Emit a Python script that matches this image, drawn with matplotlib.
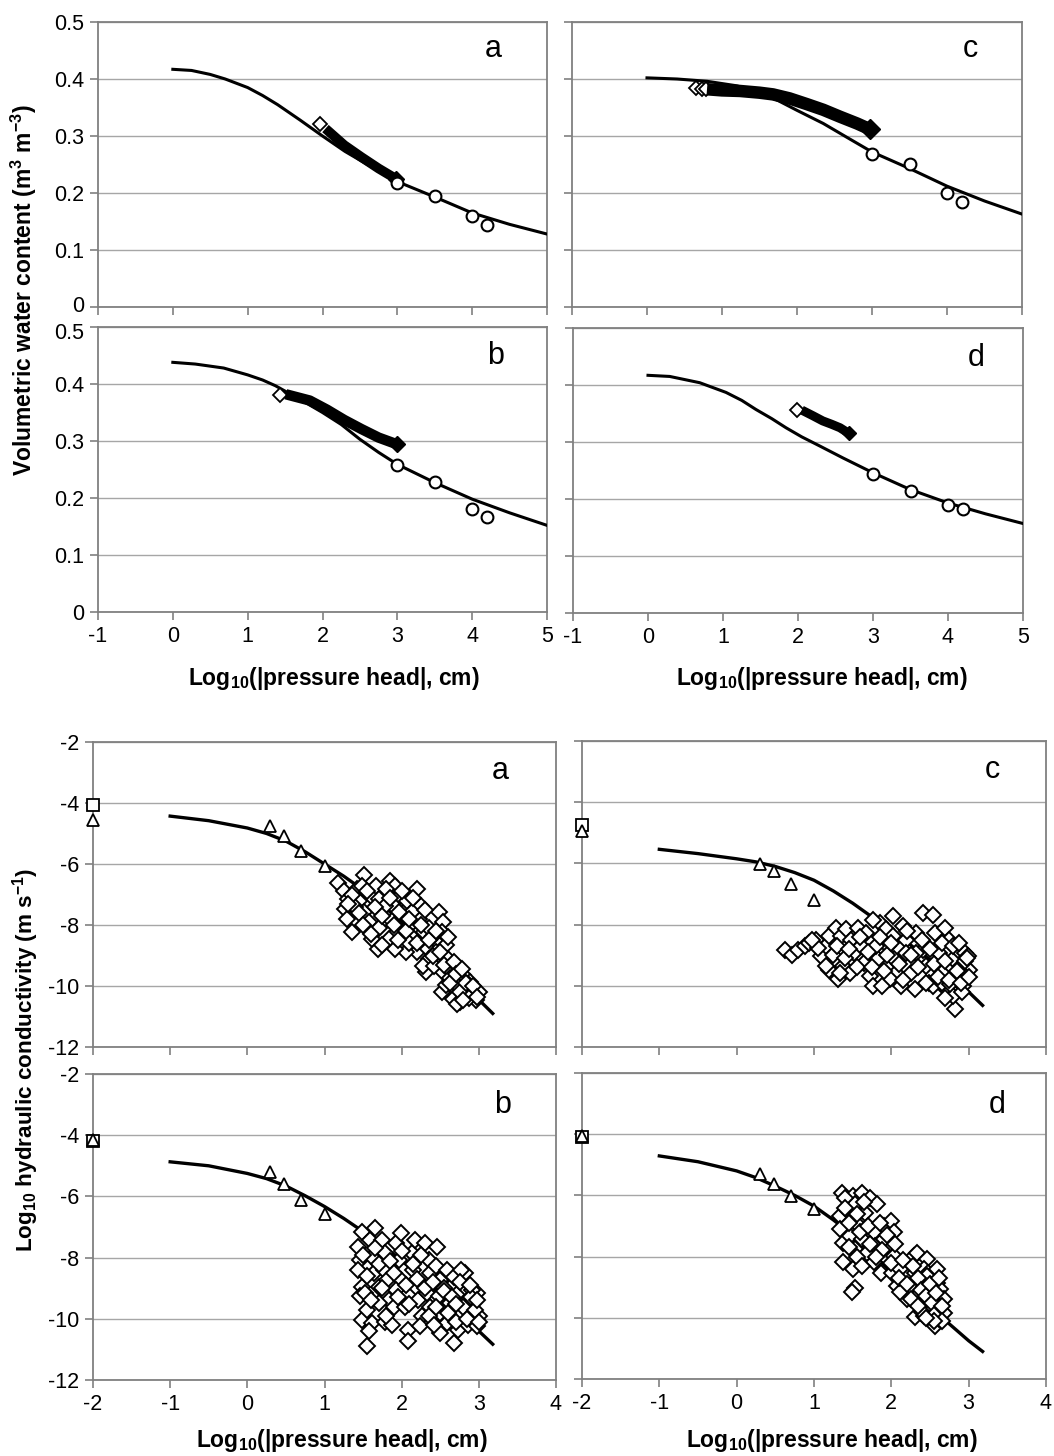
import matplotlib
matplotlib.use("Agg")
import matplotlib.pyplot as plt
import matplotlib.transforms as mtransforms

plt.rcParams["font.family"] = ["Liberation Sans", "DejaVu Sans"]
plt.rcParams["axes.unicode_minus"] = False
plt.rcParams["mathtext.fontset"] = "custom"
plt.rcParams["mathtext.rm"] = "Liberation Sans"
plt.rcParams["mathtext.bf"] = "Liberation Sans:bold"
plt.rcParams["mathtext.it"] = "Liberation Sans:italic"

W, H = 1054, 1456

# ---------------- water retention (top block) ----------------
# fitted curves
ret_curve_x = {
    "a": [0, 0.25, 0.5, 0.7, 1.0, 1.2, 1.4, 1.7, 2.0, 2.3, 2.6, 3.0, 3.5, 4.0, 4.5, 5.0],
    "b": [0, 0.3, 0.68, 1.0, 1.2, 1.37, 1.7, 2.0, 2.25, 2.5, 2.75, 3.0, 3.5, 4.0, 4.5, 5.0],
    "c": [0, 0.4, 0.8, 1.2, 1.5, 1.75, 2.0, 2.35, 2.7, 3.0, 3.5, 4.0, 4.5, 5.0],
    "d": [0, 0.29, 0.69, 1.04, 1.25, 1.44, 1.65, 1.84, 2.05, 2.29, 2.6, 3.0, 3.49, 4.0, 4.5, 5.0],
}
ret_curve_y = {
    "a": [0.417, 0.415, 0.408, 0.400, 0.385, 0.371, 0.355, 0.328, 0.300, 0.273, 0.250, 0.220, 0.193, 0.165, 0.145, 0.128],
    "b": [0.438, 0.435, 0.428, 0.416, 0.407, 0.397, 0.373, 0.350, 0.329, 0.303, 0.280, 0.259, 0.227, 0.198, 0.174, 0.152],
    "c": [0.402, 0.400, 0.396, 0.388, 0.377, 0.362, 0.345, 0.322, 0.295, 0.272, 0.243, 0.212, 0.186, 0.163],
    "d": [0.417, 0.415, 0.404, 0.387, 0.373, 0.357, 0.341, 0.325, 0.309, 0.293, 0.272, 0.246, 0.217, 0.193, 0.174, 0.157],
}
# pressure plate points (circles)
plate_x = [3.0, 3.5, 4.0, 4.2]
plate_y = {
    "a": [0.218, 0.195, 0.160, 0.143],
    "b": [0.258, 0.228, 0.180, 0.166],
    "c": [0.268, 0.251, 0.200, 0.185],
    "d": [0.243, 0.214, 0.190, 0.183],
}
# evaporation data: first (open) diamonds and dense (filled) band
evap_open_x = {"a": [1.97], "b": [1.43], "c": [0.65, 0.73, 0.78], "d": [1.98]}
evap_open_y = {"a": [0.321], "b": [0.381], "c": [0.384, 0.383, 0.383], "d": [0.357]}
evap_band_x = {
    "a": [2.04, 2.29, 2.52, 2.75, 2.98],
    "b": [1.51, 1.83, 2.06, 2.29, 2.52, 2.75, 3.0],
    "c": [0.8, 1.0, 1.24, 1.5, 1.68, 1.9, 2.13, 2.35, 2.57, 2.8, 2.97],
    "d": [2.05, 2.2, 2.33, 2.45, 2.56, 2.68],
}
evap_band_y = {
    "a": [0.313, 0.284, 0.263, 0.243, 0.225],
    "b": [0.382, 0.371, 0.355, 0.337, 0.321, 0.306, 0.294],
    "c": [0.382, 0.380, 0.379, 0.376, 0.373, 0.366, 0.356, 0.346, 0.334, 0.322, 0.312],
    "d": [0.356, 0.346, 0.337, 0.331, 0.325, 0.315],
}
evap_band_lw = {"a": 7, "b": 7.5, "c": 9, "d": 6.5}

# ---------------- hydraulic conductivity (bottom block) ----------------
k_curve_x = [-1, -0.5, 0, 0.25, 0.5, 0.75, 1.0, 1.25, 1.5, 1.75, 2.0, 2.25, 2.5, 2.75, 3.0, 3.18]
k_curve_y = {
    "a": [-4.43, -4.58, -4.82, -5.00, -5.25, -5.60, -6.00, -6.40, -6.85, -7.35, -7.90, -8.50, -9.15, -9.80, -10.45, -10.90],
    "b": [-4.87, -5.00, -5.25, -5.42, -5.66, -5.98, -6.33, -6.72, -7.15, -7.60, -8.10, -8.63, -9.20, -9.80, -10.40, -10.83],
    "c": [-5.54, -5.68, -5.85, -5.95, -6.10, -6.30, -6.55, -6.90, -7.30, -7.75, -8.20, -8.67, -9.15, -9.67, -10.20, -10.64],
    "d": [-4.71, -4.90, -5.20, -5.42, -5.70, -6.00, -6.35, -6.80, -7.30, -7.90, -8.50, -9.08, -9.65, -10.20, -10.75, -11.10],
}
# saturated conductivity (x = -2)
ksat_square = {"a": -4.05, "b": -4.18, "c": -4.75, "d": -4.10}
ksat_triangle = {"a": -4.55, "b": -4.15, "c": -4.95, "d": -4.05}
# tension infiltrometer
tens_x = [0.30, 0.48, 0.70, 1.0]
tens_y = {
    "a": [-4.74, -5.09, -5.57, -6.08],
    "b": [-5.20, -5.58, -6.11, -6.59],
    "c": [-6.01, -6.26, -6.66, -7.18],
    "d": [-5.31, -5.63, -6.01, -6.43],
}
# evaporation method (diamonds)
evk_x = {
    "a": [1.18, 1.25, 1.31, 1.27, 1.29, 1.36, 1.42, 1.51, 1.49, 1.45, 1.51, 1.56, 1.62, 1.69, 1.60,
          1.67, 1.71, 1.78, 1.85, 1.91, 1.80, 1.87, 1.94, 1.83, 1.98, 2.03, 2.07, 2.09, 2.14, 2.20,
          2.25, 2.23, 2.29, 2.20, 2.34, 2.36, 2.40, 2.45, 2.49, 2.54, 2.52, 2.58, 2.60, 2.54, 2.52,
          2.65, 2.72, 2.76, 2.80, 2.85, 2.89, 2.94, 3.00, 2.67, 2.58, 2.32, 2.05, 2.27, 1.91, 1.74,
          2.14, 1.96, 2.42, 2.72, 2.82, 2.90, 2.96, 2.70, 2.62, 2.86, 1.40, 1.58, 2.10, 2.36,
          1.35, 1.45, 1.55, 1.65, 1.70, 1.75, 1.85, 1.90, 1.95, 2.00, 2.05, 2.10, 2.15, 2.20, 2.25,
          2.30, 2.35, 2.40, 2.45, 2.50, 2.55, 2.60, 2.62, 2.68, 2.70, 2.75, 2.78, 2.83, 2.87, 2.92,
          2.98, 2.80, 1.60, 1.50, 1.30],
    "b": [1.43, 1.48, 1.46, 1.43, 1.48, 1.46, 1.48, 1.55, 1.61, 1.55, 1.59, 1.66, 1.61, 1.64, 1.70,
          1.75, 1.79, 1.77, 1.81, 1.84, 1.79, 1.88, 1.93, 1.99, 1.97, 1.99, 1.93, 1.90, 2.04, 2.08,
          2.08, 2.13, 2.17, 2.15, 2.19, 2.21, 2.26, 2.30, 2.35, 2.37, 2.33, 2.37, 2.46, 2.44, 2.50,
          2.48, 2.50, 2.50, 2.59, 2.64, 2.62, 2.59, 2.68, 2.68, 2.73, 2.77, 2.73, 2.82, 2.86, 2.91,
          2.95, 2.97, 3.00, 2.86, 2.82, 2.77, 2.24, 1.70, 1.52, 2.91, 2.93, 2.84, 2.97, 2.55,
          1.50, 1.55, 1.60, 1.65, 1.70, 1.75, 1.80, 1.85, 1.90, 1.95, 2.00, 2.05, 2.10, 2.15, 2.20,
          2.25, 2.30, 2.35, 2.40, 2.45, 2.55, 2.60, 2.65, 2.70, 2.75, 2.80, 2.85, 2.90, 2.95, 3.00,
          2.88, 2.98, 2.70, 2.42, 1.58],
    "c": [0.62, 0.72, 0.79, 0.88, 0.94, 1.02, 1.09, 1.16, 1.20, 1.29, 1.35, 1.42, 1.48, 1.57, 1.20,
          1.31, 1.37, 1.46, 1.52, 1.61, 1.65, 1.72, 1.76, 1.83, 1.85, 1.93, 1.96, 2.02, 2.04, 2.06,
          2.13, 2.15, 2.19, 2.19, 2.26, 2.30, 2.32, 2.41, 2.54, 2.41, 2.45, 2.49, 2.56, 2.62, 2.65,
          2.69, 2.71, 2.75, 2.80, 2.84, 2.82, 2.86, 2.90, 2.95, 2.99, 3.01, 2.93, 2.80, 2.54, 1.98,
          1.67, 1.80, 2.32, 2.02, 1.76, 1.16, 1.33, 2.66, 2.88, 2.97, 2.76, 2.92,
          1.25, 1.30, 1.40, 1.45, 1.55, 1.60, 1.70, 1.75, 1.85, 1.90, 1.95, 2.00, 2.10, 2.15, 2.20,
          2.25, 2.35, 2.40, 2.45, 2.50, 2.55, 2.60, 2.65, 2.70, 2.75, 2.80, 2.85, 2.90, 2.95, 3.00,
          2.88, 2.98, 1.88, 2.70, 1.05, 0.98],
    "d": [1.36, 1.51, 1.62, 1.73, 1.81, 1.34, 1.42, 1.53, 1.66, 1.34, 1.38, 1.47, 1.58, 1.53, 1.38,
          1.51, 1.62, 1.68, 1.77, 1.79, 1.77, 1.86, 1.90, 1.99, 2.03, 1.96, 2.03, 2.01, 2.07, 2.11,
          1.90, 1.53, 1.49, 2.29, 2.33, 2.46, 2.31, 2.42, 2.48, 2.24, 2.33, 2.42, 2.50, 2.59, 2.63,
          2.68, 2.61, 2.31, 2.42, 2.50, 2.57, 2.61, 2.68, 2.50, 2.37, 2.20, 2.11, 2.46, 2.59, 2.55,
          1.40, 1.45, 1.55, 1.60, 1.65, 1.70, 1.72, 1.85, 1.88, 1.95, 2.00, 2.05, 2.10, 2.15, 2.20,
          2.25, 2.28, 2.35, 2.38, 2.40, 2.45, 2.50, 2.52, 2.55, 2.58, 2.62, 2.65, 2.66, 2.55, 2.45,
          2.35, 1.45, 1.55, 1.62, 1.80, 1.40],
}
evk_y = {
    "a": [-6.63, -6.88, -7.15, -7.48, -7.80, -8.24, -6.83, -6.37, -6.72, -7.20, -7.59, -8.02, -8.46, -8.78, -7.04,
          -6.72, -7.15, -7.37, -6.55, -6.72, -6.83, -7.86, -8.24, -8.46, -7.04, -7.59, -7.20, -8.02, -8.40, -6.83,
          -7.37, -7.80, -8.24, -8.89, -8.78, -9.10, -8.35, -8.89, -7.59, -7.91, -8.24, -8.67, -9.10, -9.54, -10.20,
          -9.54, -9.98, -10.52, -9.65, -10.09, -9.87, -10.30, -10.20, -10.41, -9.98, -9.54, -8.89, -9.33, -8.78, -8.67,
          -7.59, -7.59, -9.33, -10.60, -10.35, -10.15, -10.45, -9.30, -9.75, -9.95, -7.40, -7.90, -8.60, -8.10,
          -7.00, -7.60, -6.90, -7.40, -8.10, -7.70, -7.10, -8.00, -8.50, -6.90, -8.20, -7.80, -7.10, -8.60, -8.00,
          -7.50, -8.50, -9.00, -8.20, -8.90, -9.30, -8.40, -9.90, -9.20, -9.60, -10.20, -9.45, -9.90, -10.40, -10.00,
          -10.35, -10.45, -8.30, -8.00, -7.30],
    "b": [-7.64, -7.15, -8.08, -8.40, -8.95, -9.27, -10.03, -9.71, -10.14, -10.90, -7.42, -7.04, -7.97, -8.51, -8.95,
          -7.42, -7.86, -8.40, -8.73, -9.38, -10.09, -10.20, -7.53, -7.21, -8.08, -8.73, -9.05, -9.60, -9.60, -10.36,
          -10.74, -7.86, -7.42, -8.40, -8.95, -9.38, -9.92, -7.53, -8.08, -8.51, -9.16, -9.60, -7.64, -8.29, -8.73,
          -9.27, -9.82, -10.47, -8.40, -8.95, -9.49, -10.14, -10.79, -8.62, -9.16, -9.82, -10.36, -8.95, -9.38, -9.71,
          -10.03, -9.16, -9.92, -10.20, -8.51, -8.40, -10.25, -9.49, -9.16, -9.05, -9.49, -9.60, -10.25, -9.00,
          -7.90, -8.60, -9.40, -7.70, -8.20, -9.00, -9.90, -8.10, -8.50, -9.30, -7.80, -8.90, -9.50, -8.20, -8.70,
          -7.90, -9.00, -9.90, -8.80, -9.60, -9.10, -9.80, -9.30, -10.10, -8.80, -9.60, -10.00, -9.30, -9.70, -10.10,
          -8.90, -9.40, -9.50, -10.20, -10.40],
    "c": [-8.82, -8.98, -8.82, -8.71, -8.60, -8.49, -9.03, -8.71, -8.38, -8.11, -8.38, -8.16, -8.49, -8.11, -9.47,
          -9.79, -9.36, -9.58, -8.92, -8.71, -9.25, -9.68, -10.01, -9.14, -7.95, -8.16, -8.71, -7.73, -9.14, -9.58,
          -10.01, -8.05, -8.49, -8.92, -9.58, -10.12, -8.27, -7.62, -7.67, -8.82, -9.36, -9.90, -8.27, -8.92, -9.58,
          -8.11, -10.12, -8.49, -9.14, -9.79, -10.77, -8.82, -9.36, -8.92, -9.03, -9.47, -10.01, -10.34, -10.01, -9.79,
          -8.27, -8.71, -8.92, -8.38, -7.84, -9.36, -9.58, -9.90, -9.60, -9.70, -9.95, -10.20,
          -9.00, -8.70, -9.10, -8.80, -9.40, -8.40, -8.90, -9.40, -8.40, -9.50, -9.00, -8.60, -9.30, -9.80, -8.20,
          -9.00, -9.40, -8.50, -9.90, -8.80, -9.30, -9.70, -8.60, -9.20, -9.80, -8.70, -9.50, -9.90, -9.20, -9.70,
          -8.60, -9.10, -10.00, -10.40, -8.75, -8.50],
    "d": [-5.91, -6.02, -5.91, -6.07, -6.29, -6.67, -6.45, -6.29, -6.56, -7.10, -7.54, -7.32, -7.00, -7.76, -8.19,
          -8.41, -7.43, -7.87, -7.21, -7.65, -8.19, -8.52, -7.00, -6.83, -7.21, -7.65, -7.98, -8.52, -8.96, -8.41,
          -7.43, -9.01, -9.17, -7.98, -7.87, -8.08, -8.52, -8.41, -8.52, -8.96, -9.28, -8.96, -9.17, -8.85, -9.07,
          -9.39, -9.61, -9.99, -9.94, -10.05, -10.26, -10.05, -9.83, -9.72, -9.61, -9.39, -9.17, -8.63, -8.41, -9.50,
          -6.10, -6.90, -6.60, -7.20, -6.20, -7.00, -7.60, -6.90, -7.80, -7.30, -8.20, -7.60, -8.70, -8.10, -8.90,
          -9.40, -8.30, -8.70, -9.10, -9.80, -9.30, -8.90, -9.50, -9.90, -9.20, -8.70, -9.60, -10.10, -10.10, -10.00,
          -9.60, -7.70, -8.00, -8.30, -8.00, -6.40],
}

letters = ["a", "b", "c", "d"]
ret_pos = {"a": (98, 547, 22, 307), "c": (572, 1022, 22, 307),
           "b": (98, 547, 327, 612), "d": (573, 1023, 328, 613)}
k_pos = {"a": (93, 556, 742, 1047), "c": (582, 1046, 741, 1047),
         "b": (93, 556, 1074, 1380), "d": (582, 1046, 1073, 1379)}
letter_xy = {"a": (0.88, 0.905), "b": (0.885, 0.9), "c": (0.885, 0.905), "d": (0.895, 0.895)}

GRID = "#a6a6a6"
SPINE = "#808080"

fig = plt.figure(figsize=(W / 100, H / 100), dpi=100)


def make_axes(pos):
    l, r, t, b = pos
    ax = fig.add_axes([l / W, 1 - b / H, (r - l) / W, (b - t) / H])
    for sp in ax.spines.values():
        sp.set_color(SPINE)
        sp.set_linewidth(1.3)
    ax.yaxis.grid(True, color=GRID, linewidth=1.0)
    ax.set_axisbelow(True)
    ax.tick_params(direction="out", length=6, width=1.2, color=SPINE,
                   labelsize=15.5, pad=4, top=False, right=False)
    return ax


def nudge(label, dy_px):
    label.set_transform(label.get_transform()
                        + mtransforms.ScaledTranslation(0, dy_px / 100, fig.dpi_scale_trans))


for key in letters:
    ax = make_axes(ret_pos[key])
    ax.set_xlim(-1, 5)
    ax.set_ylim(0, 0.5)
    ax.set_xticks(range(-1, 6))
    ax.set_yticks([0, 0.1, 0.2, 0.3, 0.4, 0.5])
    ax.set_yticklabels(["0", "0.1", "0.2", "0.3", "0.4", "0.5"])
    if key in ("c", "d"):
        ax.set_yticklabels([])
    if key in ("a", "c"):
        ax.set_xticklabels([])
    if key == "a":
        nudge(ax.yaxis.get_major_ticks()[0].label1, 3.5)
    if key == "b":
        nudge(ax.yaxis.get_major_ticks()[-1].label1, -3.5)
    ax.plot(ret_curve_x[key], ret_curve_y[key], color="black", lw=2.2, zorder=3)
    ax.plot(evap_open_x[key], evap_open_y[key], "D", ms=7, mfc="white", mec="black",
            mew=1.3, zorder=4)
    lw = evap_band_lw[key]
    ax.plot(evap_band_x[key], evap_band_y[key], color="black", lw=lw,
            solid_capstyle="butt", solid_joinstyle="round", zorder=5)
    ax.plot(evap_band_x[key][-1:], evap_band_y[key][-1:], "D", ms=lw + 1,
            color="black", zorder=5)
    ax.plot(plate_x, plate_y[key], "o", ms=8.5, mfc="white", mec="black", mew=1.5, zorder=6)
    ax.text(*letter_xy[key], key, transform=ax.transAxes, fontsize=22,
            ha="center", va="center")

for key in letters:
    ax = make_axes(k_pos[key])
    ax.set_xlim(-2, 4)
    ax.set_ylim(-12, -2)
    ax.set_xticks(range(-2, 5))
    ax.set_yticks(range(-12, -1, 2))
    if key in ("c", "d"):
        ax.set_yticklabels([])
    if key in ("a", "c"):
        ax.set_xticklabels([])
    ax.plot(k_curve_x, k_curve_y[key], color="black", lw=2.4, zorder=3)
    ax.plot(evk_x[key], evk_y[key], "D", ms=8, mfc="white", mec="black", mew=1.4,
            linestyle="none", zorder=4)
    ax.plot(tens_x, tens_y[key], "^", ms=9, mfc="white", mec="black", mew=1.3, zorder=5)
    ax.plot([-2], [ksat_square[key]], "s", ms=9, mfc="white", mec="black", mew=1.3,
            clip_on=False, zorder=6)
    ax.plot([-2], [ksat_triangle[key]], "^", ms=8.5, mfc="white", mec="black", mew=1.3,
            clip_on=False, zorder=7)
    ax.text(*letter_xy[key], key, transform=ax.transAxes, fontsize=22,
            ha="center", va="center")

xlab = "Log$_{\\mathbf{10}}$(|pressure head|, cm)"
for cx in (334, 822):
    fig.text(cx / W, 1 - 679 / H, xlab, fontsize=16.5, fontweight="bold",
             ha="center", va="center")
for cx in (342, 832):
    fig.text(cx / W, 1 - 1440 / H, xlab, fontsize=16.5, fontweight="bold",
             ha="center", va="center")

fig.text(24 / W, 1 - 290 / H, "Volumetric water content (m$^{\\mathbf{3}}$ m$^{\\mathbf{-3}}$)",
         rotation=90, fontsize=16.5, fontweight="bold", ha="center", va="center")
fig.text(26 / W, 1 - 1060 / H, "Log$_{\\mathbf{10}}$ hydraulic conductivity (m s$^{\\mathbf{-1}}$)",
         rotation=90, fontsize=16.2, fontweight="bold", ha="center", va="center")

fig.savefig("out.png", dpi=100)
